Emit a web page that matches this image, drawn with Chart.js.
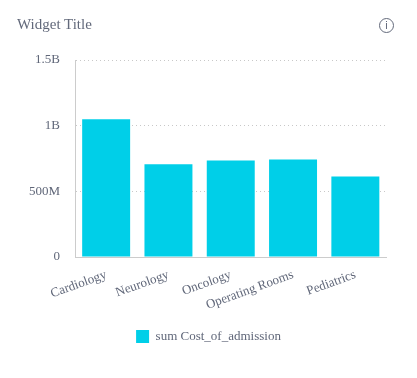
<!DOCTYPE html>
<html>
<head>
<meta charset="utf-8">
<style>
html,body{margin:0;padding:0;background:#fff;width:417px;height:378px;overflow:hidden}
#wrap{position:relative;width:417px;height:378px}
#title{position:absolute;left:17px;top:14px;font:15px "Liberation Serif",serif;color:#606779;line-height:20px;opacity:.99;will-change:opacity}
#info{position:absolute;left:379px;top:18px;width:13px;height:13px;border:1.3px solid #606779;border-radius:50%;font:11px/13px "Liberation Sans",sans-serif;color:#606779;text-align:center;opacity:.99;will-change:opacity}
canvas{position:absolute;left:0;top:0}
</style>
<script src="https://cdn.jsdelivr.net/npm/chart.js@4"></script>
</head>
<body>
<div id="wrap">
<div id="title">Widget Title</div>
<div id="info">i</div>
<canvas id="c" width="417" height="378"></canvas>
</div>
<script>
const categories = ["Cardiology","Neurology","Oncology","Operating Rooms","Pediatrics"];
const costValues = [1048000000,706000000,735000000,742000000,612000000];
const seriesName = "sum Cost_of_admission";
const tickValues = [0,500000000,1000000000,1500000000];
const tickLabels = ["0","500M","1B","1.5B"];
const textColor = "#606779";
const font = {family:'"Liberation Serif", serif',size:13};
new Chart(document.getElementById('c'),{
  type:'bar',
  data:{labels:categories,datasets:[{label:seriesName,data:costValues,backgroundColor:'#00cfe8',borderWidth:0,categoryPercentage:0.77,barPercentage:1}]},
  options:{
    responsive:false,animation:false,
    layout:{padding:{left:0,right:0,top:60,bottom:25}},
    plugins:{
      tooltip:{enabled:false},
      legend:{position:'bottom',labels:{boxWidth:13,boxHeight:13,color:textColor,font:font,padding:10}}
    },
    scales:{
      x:{
        grid:{display:false},
        border:{color:'#cccccc',width:1},
        ticks:{color:textColor,font:font,minRotation:20,maxRotation:20,autoSkip:false,padding:2},
        afterFit(s){s.height=63;}
      },
      y:{
        min:0,max:1500000000,
        afterFit(s){s.width=75;},
        afterBuildTicks(s){s.ticks=tickValues.map(v=>({value:v}));},
        grid:{color:'#c8c8c8',drawTicks:false,lineWidth:1},
        border:{color:'#cccccc',width:1,dash:[1,3]},
        ticks:{color:textColor,font:font,padding:15,callback(v){return tickLabels[tickValues.indexOf(v)];}}
      },
      y2:{
        position:'right',display:true,
        grid:{display:false},border:{display:false},ticks:{display:false},
        afterFit(s){s.width=30.5;}
      }
    }
  }
});
</script>
</body>
</html>
